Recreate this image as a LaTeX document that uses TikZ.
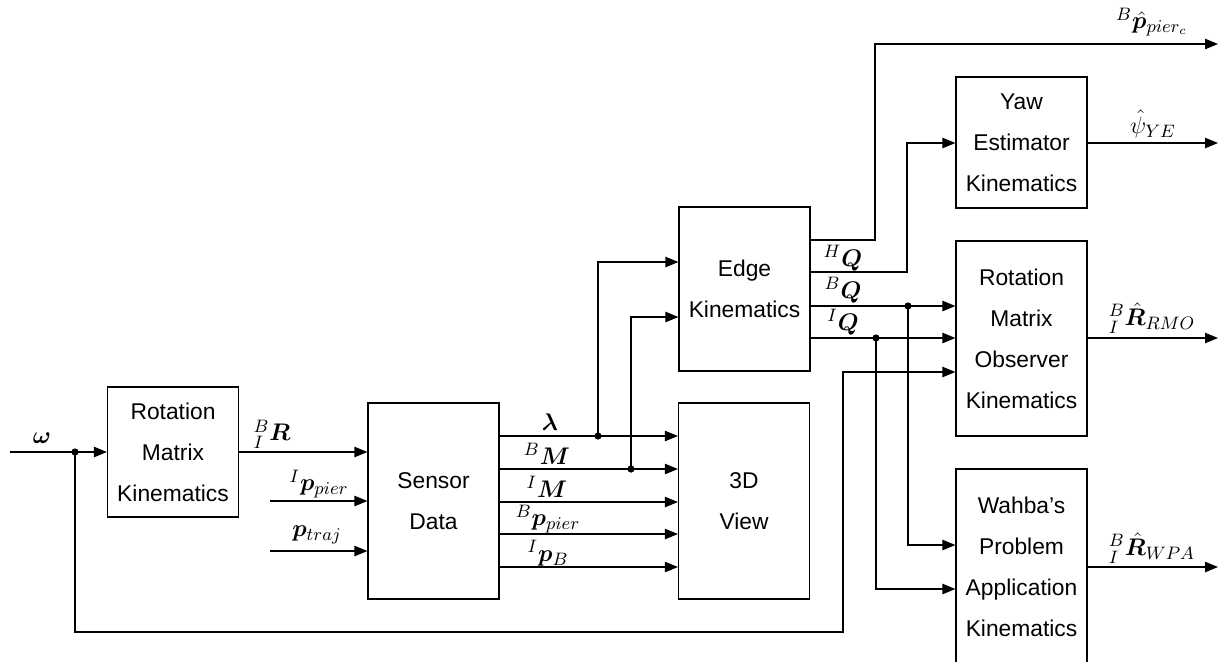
\documentclass[tikz,border=0pt]{standalone}
\usepackage{amsmath,bm}
\usepackage{fontspec}
\newfontfamily\boxfont{Liberation Sans}
\usetikzlibrary{arrows.meta}
\begin{document}
\begin{tikzpicture}[x=0.5pt,y=-0.5pt, line width=0.6pt,
 blk/.style={draw, inner sep=0pt, align=center, minimum width=65.5pt, font=\boxfont\fontsize{11.4}{20.5}\selectfont},
 arr/.style={-{Triangle[length=6.5pt,width=5.2pt]}},
 lbl/.style={inner sep=0pt, font=\fontsize{12.8}{15}\selectfont},
 dot/.style={circle, fill, inner sep=0pt, minimum size=3.6pt}]
\useasboundingbox (0,0) rectangle (1220,661);
% blocks
\node[blk, minimum height=65pt] (rmk) at (173,452) {Rotation\\Matrix\\Kinematics};
\node[blk, minimum height=98pt] (sd) at (433.5,501) {Sensor\\Data};
\node[blk, minimum height=98pt] (view) at (744,501) {3D\\View};
\node[blk, minimum height=82pt] (edge) at (744.5,289) {Edge\\Kinematics};
\node[blk, minimum height=65.5pt] (yaw) at (1021.5,142.5) {Yaw\\Estimator\\Kinematics};
\node[blk, minimum height=97.5pt] (rmo) at (1021.5,338.5) {Rotation\\Matrix\\Observer\\Kinematics};
\node[blk, minimum height=97.5pt] (wpa) at (1021.5,566.5) {Wahba’s\\Problem\\Application\\Kinematics};
% coordinates
\coordinate (w0) at (10,452);
\coordinate (wd) at (75,452);
\coordinate (pin) at (270,501);
\coordinate (tin) at (270,551);
\coordinate (ld) at (598,436);
\coordinate (md) at (631,469);
\coordinate (bqd) at (908,306);
\coordinate (iqd) at (876,338);
\coordinate (o1) at (1218,44);
\coordinate (o2) at (1218,143);
\coordinate (o3) at (1218,338);
\coordinate (o4) at (1218,567);
% omega
\draw (w0) -- (wd);
\draw[arr] (wd) -- (rmk.west |- wd);
\node[dot] (wdot) at (wd) {};
\draw[arr] (wd) -- (75,632) -- (843,632) -- (843,372) -- (rmo.west |- 0,372);
\node[lbl] (lw) at (42,438) {$\bm{\omega}$};
% inputs to sensor data
\draw[arr] (rmk.east |- wd) -- (sd.west |- wd);
\node[lbl] (lR) at (272,434) {${}^{B}_{I}\bm{R}$};
\draw[arr] (pin) -- (sd.west |- pin);
\node[lbl] (lp) at (319,484) {${}^{I}\bm{p}_{pier}$};
\draw[arr] (tin) -- (sd.west |- tin);
\node[lbl] (lt) at (317,535) {$\bm{p}_{traj}$};
% sensor data outputs
\draw[arr] (sd.east |- ld) -- (view.west |- ld);
\draw[arr] (sd.east |- md) -- (view.west |- md);
\draw[arr] (sd.east |- 0,502) -- (view.west |- 0,502);
\draw[arr] (sd.east |- 0,534) -- (view.west |- 0,534);
\draw[arr] (sd.east |- 0,567) -- (view.west |- 0,567);
\node[lbl] (ll) at (550,422) {$\bm{\lambda}$};
\node[lbl] (lBM) at (547,454) {${}^{B}\bm{M}$};
\node[lbl] (lIM) at (547,487) {${}^{I}\bm{M}$};
\node[lbl] (lBp) at (548,519) {${}^{B}\bm{p}_{pier}$};
\node[lbl] (lIp) at (548,553) {${}^{I}\bm{p}_{B}$};
% to edge
\draw[arr] (ld) -- (598,262) -- (edge.west |- 0,262);
\draw[arr] (md) -- (631,317) -- (edge.west |- 0,317);
\node[dot] (ldot) at (ld) {};
\node[dot] (mdot) at (md) {};
% edge outputs
\draw[arr] (edge.east |- 0,240) -- (875,240) -- (875,44) -- (o1);
\draw[arr] (edge.east |- 0,272) -- (907,272) -- (907,143) -- (yaw.west |- 0,143);
\draw[arr] (edge.east |- bqd) -- (rmo.west |- bqd);
\draw[arr] (edge.east |- iqd) -- (rmo.west |- iqd);
\draw[arr] (bqd) -- (908,545) -- (wpa.west |- 0,545);
\draw[arr] (iqd) -- (876,589) -- (wpa.west |- 0,589);
\node[dot] (bdot) at (bqd) {};
\node[dot] (idot) at (iqd) {};
\node[lbl] (lHQ) at (843,258) {${}^{H}\bm{Q}$};
\node[lbl] (lBQ) at (843,290) {${}^{B}\bm{Q}$};
\node[lbl] (lIQ) at (843,322) {${}^{I}\bm{Q}$};
% final outputs
\draw[arr] (yaw.east |- o2) -- (o2);
\draw[arr] (rmo.east |- o3) -- (o3);
\draw[arr] (wpa.east |- o4) -- (o4);
\node[lbl] (lpc) at (1152,22) {${}^{B}\hat{\bm{p}}_{pier_c}$};
\node[lbl] (lpsi) at (1153,124) {$\hat{\psi}_{YE}$};
\node[lbl] (lrmo) at (1152,318) {${}^{B}_{I}\hat{\bm{R}}_{RMO}$};
\node[lbl] (lwpa) at (1152,548) {${}^{B}_{I}\hat{\bm{R}}_{WPA}$};
\end{tikzpicture}
\end{document}
